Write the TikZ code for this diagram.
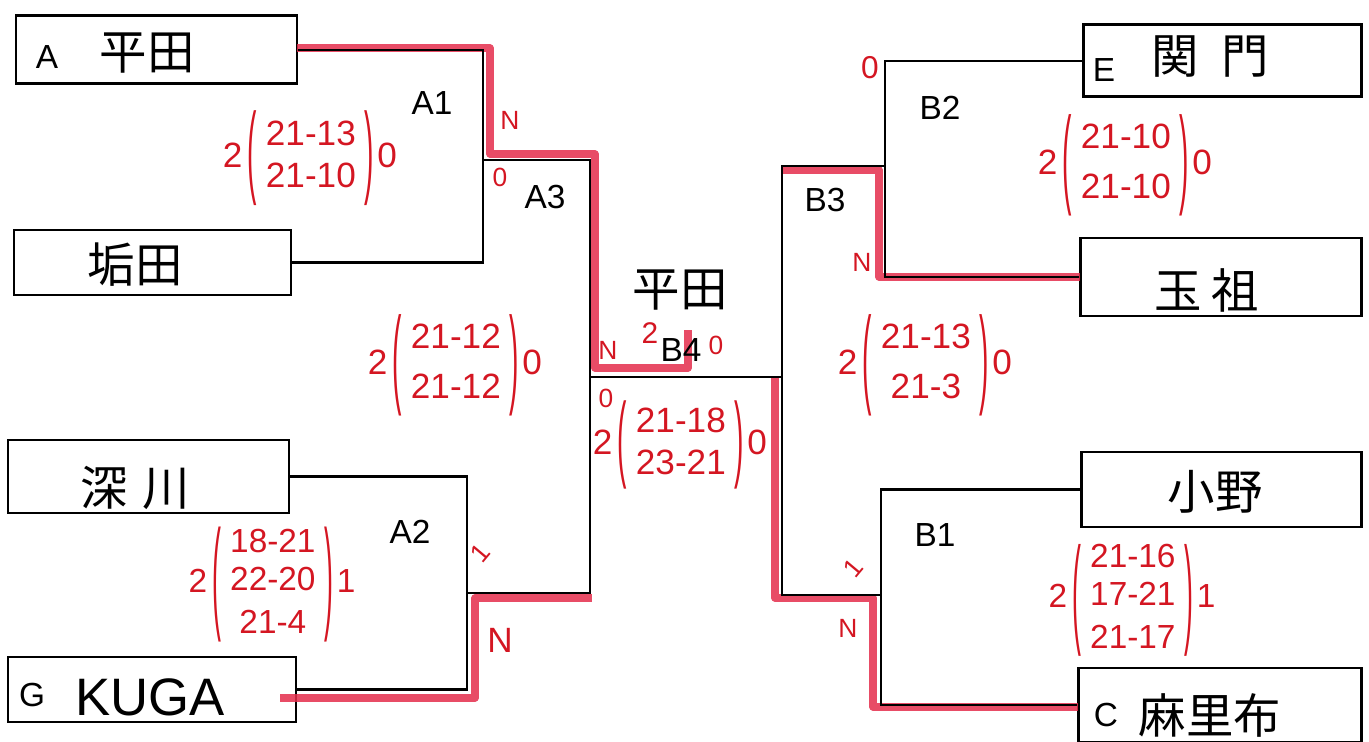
\documentclass[tikz,border=0pt]{standalone}
\usepackage{fontspec}
\setmainfont{Liberation Sans}
\newfontfamily\jp{Noto Sans CJK JP}
\usepackage{graphicx}
\usepackage{xcolor}
\usepackage{tikz}
\usetikzlibrary{fit,calc}
\definecolor{hilite}{RGB}{228,45,75}
\definecolor{ink}{RGB}{212,22,34}
\newcommand{\paren}[2]{\vcenter{\hbox{\scalebox{0.8}[#2]{#1}}}}
\newcommand{\games}[4]{#1\hspace{3pt}$\paren{(}{#4}\begin{tabular}{@{\hspace{5pt}}c@{\hspace{5pt}}}#2\end{tabular}\paren{)}{#4}$\hspace{2pt}#3}
\tikzset{
  team/.style  = {draw, line width=1.7pt, inner sep=0pt},
  tag/.style   = {font=\fontsize{19}{21}\selectfont, inner sep=0pt},
  pname/.style = {font=\jp\fontsize{27}{30}\selectfont, inner sep=0pt},
  match/.style = {font=\fontsize{19}{21}\selectfont, inner sep=0pt},
  bline/.style = {line width=1.4pt},
  win/.style   = {line width=4pt, draw=hilite, opacity=0.85, line join=round},
  score/.style = {text=ink, font=\fontsize{20}{24}\selectfont, inner sep=0pt},
  tally/.style = {text=ink, font=\fontsize{15}{16}\selectfont, inner sep=0pt},
}
\begin{document}
\begin{tikzpicture}[x=0.02cm, y=-0.02cm]
\useasboundingbox (0,0) rectangle (1369,742);
% team boxes
\node[team, fit={(16,16) (297,84)}]     (bA) {};
\node[team, fit={(14,230) (291,295)}]   (bK) {};
\node[team, fit={(8,440) (289,513)}]    (bF) {};
\node[team, fit={(8,657) (296,722)}]    (bG) {};
\node[team, fit={(1083,25) (1361,97)}]  (bE) {};
\node[team, fit={(1080,238) (1361,316)}] (bT) {};
\node[team, fit={(1081,452) (1361,527)}] (bO) {};
\node[team, fit={(1078,668) (1361,742)}] (bC) {};
\node[tag] (tA) at (47,57) {A};
\node[tag] (tG) at (32,695) {G};
\node[tag] (tE) at (1104,70) {E};
\node[tag] (tC) at (1106,715) {C};
\node[pname] (nA) at (147,53) {平田};
\node[pname] (nK) at (135,265) {垢田};
\node[pname] (nF) at (135,488) {深\hspace{0.3cm}川};
\node[font=\fontsize{30}{32}\selectfont, inner sep=0pt] (nG) at (150,697) {KUGA};
\node[pname] (nE) at (1210,57) {関\hspace{0.45cm}門};
\node[pname] (nT) at (1207,290) {玉\hspace{0.2cm}祖};
\node[pname] (nO) at (1215,492) {小野};
\node[pname] (nC) at (1210,715) {麻里布};
% junctions
\coordinate (a1) at (483,160);
\coordinate (a2) at (467,593);
\coordinate (a3) at (590,377);
\coordinate (b2) at (885,166);
\coordinate (b1) at (881,595);
\coordinate (b3) at (782,377);
% winners
\draw[win] (297,48) -- (490,48) -- (490,154) -- (595,154) -- (595,368) -- (688,368) -- (688,330);
\draw[win] (280,698) -- (475,698) -- (475,598) -- (592,598);
\draw[win] (782,170) -- (879,170) -- (879,277) -- (1080,277);
\draw[win] (775,378) -- (775,598) -- (873,598) -- (873,707) -- (1078,707);
% bracket
\draw[bline] (bA.east) -| (a1) |- (bK.east);
\draw[bline] (bF.east) -| (a2) |- (bG.east);
\draw[bline] (a1) -| (a3) |- (a2);
\draw[bline] (bE.west) -| (b2) |- (bT.west);
\draw[bline] (bO.west) -| (b1) |- (bC.west);
\draw[bline] (b2) -| (b3) |- (b1);
\draw[bline] (a3) -- (b3);
\node[match] (mA1) at (432,103) {A1};
\node[match] (mA3) at (545,197) {A3};
\node[match] (mA2) at (410,532) {A2};
\node[match] (mB4) at (681,350) {B4};
\node[match] (mB2) at (940,108) {B2};
\node[match] (mB3) at (825,200) {B3};
\node[match] (mB1) at (935,535) {B1};
% scores
\node[score] (sA1) at (310,158) {\games{2}{21-13\\21-10}{0}{2.9}};
\node[score] (sA3) at (455,365) {\games{2}{21-12\\[4pt]21-12}{0}{3.1}};
\node[score, font=\fontsize{19}{22}\selectfont] (sA2) at (272,585) {\games{2}{18-21\\22-20\\[2pt]21-4}{1}{3.7}};
\node[score] (sB4) at (680,445) {\games{2}{21-18\\23-21}{0}{2.7}};
\node[score] (sB3) at (925,365) {\games{2}{21-13\\[4pt]21-3}{0}{3.1}};
\node[score] (sB2) at (1125,165) {\games{2}{21-10\\[4pt]21-10}{0}{3.1}};
\node[score, font=\fontsize{19}{22}\selectfont] (sB1) at (1132,600) {\games{2}{21-16\\17-21\\[2pt]21-17}{1}{3.6}};
\node[pname] (wB4) at (680,290) {平田};
% tallies
\node[tally] (k1) at (510,120) {N};
\node[tally] (k2) at (500,177) {0};
\node[tally, rotate=50] (k3) at (480,553) {1};
\node[tally, font=\fontsize{20}{22}\selectfont] (k4) at (500,640) {N};
\node[tally, font=\fontsize{18}{20}\selectfont] (k5) at (870,68) {0};
\node[tally] (k6) at (862,262) {N};
\node[tally, rotate=50] (k7) at (853,568) {1};
\node[tally] (k8) at (848,628) {N};
\node[tally] (k9) at (608,350) {N};
\node[tally, font=\fontsize{17}{18}\selectfont] (k10) at (650,333) {2};
\node[tally] (k11) at (716,345) {0};
\node[tally] (k12) at (606,398) {0};
\end{tikzpicture}
\end{document}
